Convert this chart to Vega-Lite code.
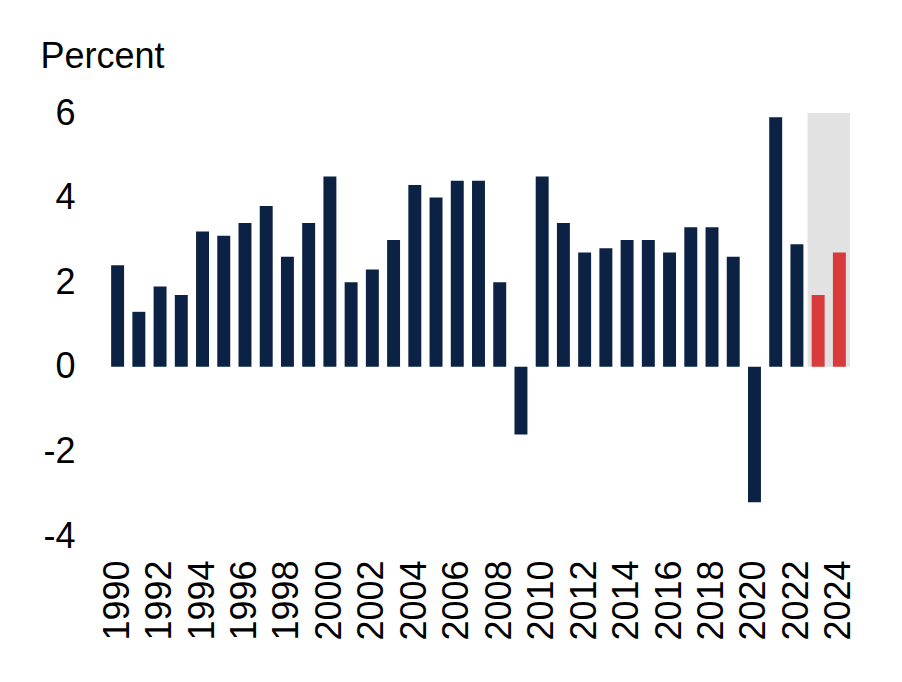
{
  "$schema": "https://vega.github.io/schema/vega-lite/v6.json",
  "autosize": {"type": "none"},
  "width": 743,
  "height": 423,
  "padding": {"left": 107, "top": 113, "right": 52, "bottom": 146},
  "background": "white",
  "config": {
    "view": {"stroke": null},
    "font": "Liberation Sans",
    "axis": {"labelFont": "Liberation Sans", "titleFont": "Liberation Sans", "labelColor": "#000", "titleColor": "#000", "grid": false}
  },
  "datasets": {
    "growth": [
      {"year": 1990, "value": 2.4, "kind": "actual"},
      {"year": 1991, "value": 1.3, "kind": "actual"},
      {"year": 1992, "value": 1.9, "kind": "actual"},
      {"year": 1993, "value": 1.7, "kind": "actual"},
      {"year": 1994, "value": 3.2, "kind": "actual"},
      {"year": 1995, "value": 3.1, "kind": "actual"},
      {"year": 1996, "value": 3.4, "kind": "actual"},
      {"year": 1997, "value": 3.8, "kind": "actual"},
      {"year": 1998, "value": 2.6, "kind": "actual"},
      {"year": 1999, "value": 3.4, "kind": "actual"},
      {"year": 2000, "value": 4.5, "kind": "actual"},
      {"year": 2001, "value": 2.0, "kind": "actual"},
      {"year": 2002, "value": 2.3, "kind": "actual"},
      {"year": 2003, "value": 3.0, "kind": "actual"},
      {"year": 2004, "value": 4.3, "kind": "actual"},
      {"year": 2005, "value": 4.0, "kind": "actual"},
      {"year": 2006, "value": 4.4, "kind": "actual"},
      {"year": 2007, "value": 4.4, "kind": "actual"},
      {"year": 2008, "value": 2.0, "kind": "actual"},
      {"year": 2009, "value": -1.6, "kind": "actual"},
      {"year": 2010, "value": 4.5, "kind": "actual"},
      {"year": 2011, "value": 3.4, "kind": "actual"},
      {"year": 2012, "value": 2.7, "kind": "actual"},
      {"year": 2013, "value": 2.8, "kind": "actual"},
      {"year": 2014, "value": 3.0, "kind": "actual"},
      {"year": 2015, "value": 3.0, "kind": "actual"},
      {"year": 2016, "value": 2.7, "kind": "actual"},
      {"year": 2017, "value": 3.3, "kind": "actual"},
      {"year": 2018, "value": 3.3, "kind": "actual"},
      {"year": 2019, "value": 2.6, "kind": "actual"},
      {"year": 2020, "value": -3.2, "kind": "actual"},
      {"year": 2021, "value": 5.9, "kind": "actual"},
      {"year": 2022, "value": 2.9, "kind": "actual"},
      {"year": 2023, "value": 1.7, "kind": "forecast"},
      {"year": 2024, "value": 2.7, "kind": "forecast"}
    ],
    "shade": [
      {"year": 2023, "year_end": 2024, "top": 6, "bottom": 0}
    ]
  },
  "layer": [
    {
      "data": {"name": "shade"},
      "mark": {"type": "rect", "color": "#e2e2e2"},
      "encoding": {
        "x": {"field": "year", "type": "ordinal", "bandPosition": -0.3197},
        "x2": {"field": "year_end", "bandPosition": 1.3197},
        "y": {"field": "top", "type": "quantitative"},
        "y2": {"field": "bottom"}
      }
    },
    {
      "data": {"name": "growth"},
      "mark": {"type": "bar"},
      "encoding": {
        "x": {
          "field": "year",
          "type": "ordinal",
          "sort": "ascending",
          "scale": {"type": "band", "paddingInner": 0.39, "paddingOuter": 0.195},
          "axis": {
            "title": null,
            "values": [1990, 1992, 1994, 1996, 1998, 2000, 2002, 2004, 2006, 2008, 2010, 2012, 2014, 2016, 2018, 2020, 2022, 2024],
            "labelAngle": -90,
            "labelAlign": "right",
            "labelBaseline": "middle",
            "labelFontSize": 36,
            "labelPadding": 24,
            "ticks": false,
            "domain": false
          }
        },
        "y": {
          "field": "value",
          "type": "quantitative",
          "scale": {"domain": [-4, 6], "nice": false, "zero": false},
          "axis": {
            "values": [-4, -2, 0, 2, 4, 6],
            "labelExpr": "'' + datum.value",
            "labelFontSize": 36,
            "labelPadding": 32,
            "ticks": false,
            "domain": false,
            "title": "Percent",
            "titleAngle": 0,
            "titleAlign": "left",
            "titleBaseline": "alphabetic",
            "titleFontSize": 36,
            "titleFontWeight": "normal",
            "titleX": -67,
            "titleY": -46
          }
        },
        "color": {
          "field": "kind",
          "type": "nominal",
          "scale": {"domain": ["actual", "forecast"], "range": ["#0b2244", "#d93a3b"]},
          "legend": null
        }
      }
    },
    {
      "mark": {"type": "rule", "color": "#000", "strokeWidth": 1.5},
      "encoding": {
        "y": {"datum": 0}
      }
    }
  ]
}
